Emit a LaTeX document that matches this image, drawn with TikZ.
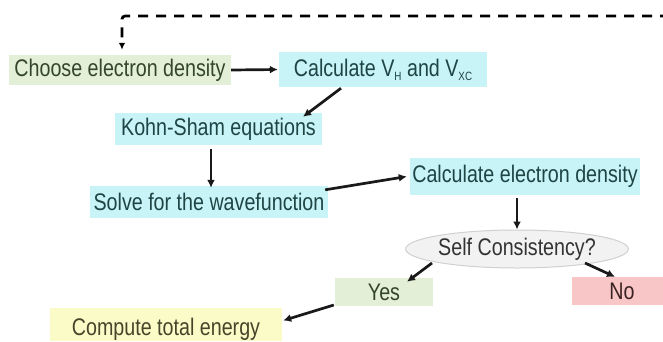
\documentclass[tikz,border=0pt]{standalone}
\usepackage{fontspec}
\setmainfont[FakeStretch=0.82]{Liberation Sans}
\usetikzlibrary{arrows.meta,shapes.geometric}
\definecolor{greenfill}{HTML}{E3EFD6}
\definecolor{cyanfill}{HTML}{C8F4F8}
\definecolor{redfill}{HTML}{F8C6C6}
\definecolor{yellowfill}{HTML}{FBFBC8}
\definecolor{ellfill}{HTML}{F2F2F2}
\definecolor{elldraw}{HTML}{D0D0D0}
\definecolor{txtgreen}{HTML}{34452F}
\definecolor{txtteal}{HTML}{1E4444}
\definecolor{txtolive}{HTML}{45452A}
\definecolor{txtred}{HTML}{3A2222}
\definecolor{txtgray}{HTML}{333333}
\newcommand{\subtxt}[1]{\raisebox{-4pt}{\fontsize{12}{12}\selectfont #1}}
\tikzset{
  box/.style={rectangle, inner sep=0pt, font=\fontsize{24}{26}\selectfont},
  conn/.style={line width=2.7pt, color=black!90, -{Latex[length=8pt,width=8pt]}},
}
\begin{document}
\begin{tikzpicture}[x=1pt,y=-1pt]
\useasboundingbox (0,0) rectangle (663,341);
\node[box, fill=greenfill, text=txtgreen, minimum width=222pt, minimum height=30pt] (choose) at (120,70) {Choose electron density};
\node[box, fill=cyanfill, text=txtteal, minimum width=208pt, minimum height=35pt] (calcV) at (383,69.5) {Calculate V\subtxt{H} and V\subtxt{XC}};
\node[box, fill=cyanfill, text=txtteal, minimum width=207pt, minimum height=32pt] (kohn) at (218.5,129) {Kohn-Sham equations};
\node[box, fill=cyanfill, text=txtteal, minimum width=238pt, minimum height=32pt] (solve) at (209,202) {Solve for the wavefunction};
\node[box, fill=cyanfill, text=txtteal, minimum width=230pt, minimum height=37pt] (calcED) at (525,176.5) {Calculate electron density};
\node[ellipse, draw=elldraw, line width=1pt, fill=ellfill, text=txtgray, inner sep=0pt, minimum width=182pt, minimum height=38pt, font=\fontsize{24}{26}\selectfont] (self) at (517,249) {Self Consistency?};
\node[box, fill=greenfill, text=txtgreen, minimum width=98pt, minimum height=28pt] (yes) at (384,292) {Yes};
\node[box, fill=redfill, text=txtred, minimum width=100pt, minimum height=28pt] (no) at (622,291) {No};
\node[box, fill=yellowfill, text=txtolive, minimum width=232pt, minimum height=33pt, text height=22pt, text depth=0pt] (compute) at (166,324.5) {Compute total energy};
\coordinate (fbstart) at (670,16);
\draw[line width=2.7pt, dash pattern=on 10pt off 8pt, rounded corners=3pt, -{Latex[length=7pt,width=6.5pt]}] (fbstart) -| ([xshift=2pt,yshift=5pt]choose.north);
\draw[conn] (choose.east) -- ([xshift=-1pt]calcV.west);
\draw[conn] ([xshift=-42pt,yshift=-1pt]calcV.south) -- ([xshift=84.5pt,yshift=-4pt]kohn.north);
\draw[conn] ([xshift=-7.5pt,yshift=-4pt]kohn.south) -- ([xshift=2pt,yshift=-2pt]solve.north);
\draw[conn] ([xshift=-3pt,yshift=-4pt]solve.north east) -- ([xshift=-3pt]calcED.west);
\draw[conn] ([xshift=-8pt,yshift=-3pt]calcED.south) -- (self.north);
\draw[conn] ([xshift=-85pt,yshift=-14pt]self.center) -- ([xshift=23pt,yshift=-4pt]yes.north);
\draw[conn] ([xshift=68pt,yshift=-14pt]self.center) -- ([xshift=-7pt,yshift=0pt]no.north);
\draw[conn] ([xshift=-1pt,yshift=-13pt]yes.west) -- ([xshift=1pt,yshift=4pt]compute.east);
\end{tikzpicture}
\end{document}
